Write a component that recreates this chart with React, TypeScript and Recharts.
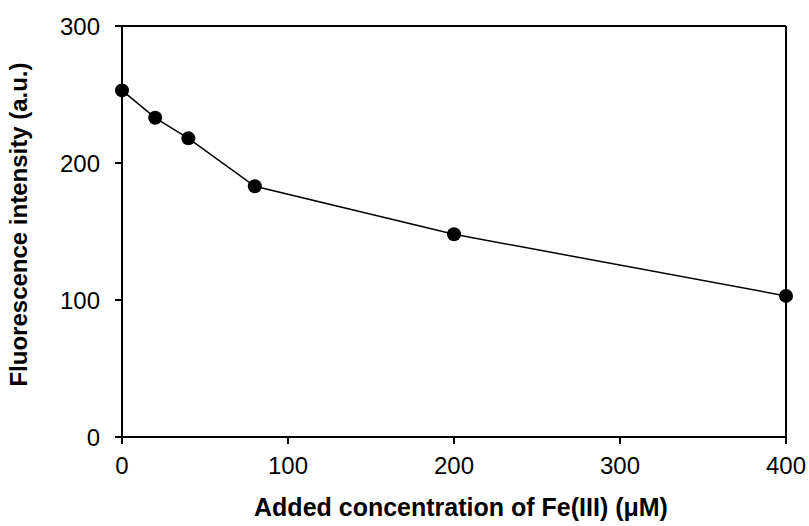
import { LineChart, Line, XAxis, YAxis, ReferenceLine } from 'recharts'

const concentrations = [0, 20, 40, 80, 200, 400]
const intensities = [253, 233, 218, 183, 148, 103]
const xTicks = [0, 100, 200, 300, 400]
const yTicks = [0, 100, 200, 300]

const data = concentrations.map((c, i) => ({ c, v: intensities[i] }))

const font = 'Liberation Sans, Arial, sans-serif'
const tickStyle = { fontSize: 24, fill: '#000', fontFamily: font }

export default function App() {
  return (
    <div style={{ position: 'absolute', left: 0, top: 0, background: '#fff' }}>
      <LineChart width={809} height={526} data={data} margin={{ top: 26, right: 23, left: 0, bottom: 0 }}>
        <XAxis
          dataKey="c"
          type="number"
          domain={[0, 400]}
          ticks={xTicks}
          height={89}
          stroke="#000"
          strokeWidth={2}
          tickSize={7}
          tickMargin={13}
          tick={tickStyle}
          label={{
            value: 'Added concentration of Fe(III) (μM)',
            position: 'insideBottom',
            offset: 10,
            dx: 7,
            style: { fontSize: 25, fontWeight: 700, fill: '#000', fontFamily: font },
          }}
        />
        <YAxis
          type="number"
          domain={[0, 300]}
          ticks={yTicks}
          width={122}
          stroke="#000"
          strokeWidth={2}
          tickSize={7}
          tickMargin={15}
          tick={tickStyle}
          label={{
            value: 'Fluorescence intensity (a.u.)',
            angle: -90,
            position: 'insideLeft',
            offset: 18,
            dy: -7,
            style: { textAnchor: 'middle', fontSize: 24, fontWeight: 700, fill: '#000', fontFamily: font },
          }}
        />
        <ReferenceLine y={300} stroke="#000" strokeWidth={2} />
        <ReferenceLine x={400} stroke="#000" strokeWidth={2} />
        <Line
          dataKey="v"
          stroke="#000"
          strokeWidth={1.5}
          dot={{ r: 7, fill: '#000', stroke: '#000', strokeWidth: 0 }}
          isAnimationActive={false}
        />
      </LineChart>
    </div>
  )
}
